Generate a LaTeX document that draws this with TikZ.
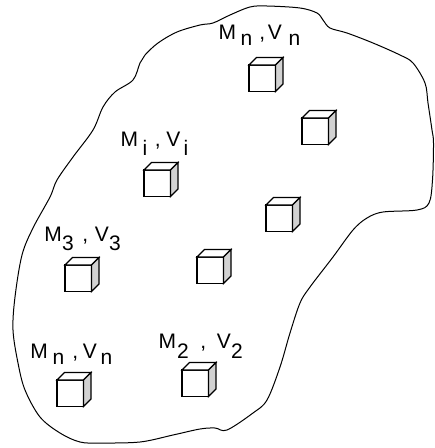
\documentclass[tikz,border=0pt]{standalone}
\usepackage{fontspec}
\setmainfont{Liberation Sans}
\usetikzlibrary{calc}
\newcommand{\lbl}[6]{\fontsize{21pt}{25pt}\selectfont M\hspace{#2}\raisebox{-#6}{#1}\hspace{#3},\hspace{#4}V\hspace{#5}\raisebox{-#6}{#1}}
\newcommand{\cubeat}[3]{%
  \coordinate (#1) at (#2,#3);
  \draw[cubeline, fill=white] (#1) rectangle ++(26.5,26.5);
  \draw[cubeline, fill=white] (#1) -- ++(7.5,-7.5) -- ++(26.5,0) -- ++(-7.5,7.5) -- cycle;
  \draw[cubeline, fill=cubeside] ($(#1)+(26.5,0)$) -- ++(7.5,-7.5) -- ++(0,26.5) -- ++(-7.5,7.5) -- cycle;
}
\definecolor{cubeside}{HTML}{D2D2D2}
\begin{document}
\begin{tikzpicture}[x=1pt,y=-1pt,
  cubeline/.style={draw=black, line width=1.2pt, line join=miter},
  blobline/.style={draw=black, line width=1pt},
  lab/.style={anchor=base west, inner sep=0pt}]
\useasboundingbox (0,0) rectangle (435,448);
\fill[white] (0,0) rectangle (435,448);
\draw[blobline] plot[smooth cycle, tension=0.55] coordinates {
(177,32) (200,25) (213,23) (230,15) (250,7) (267,6) (300,8) (317,13) (323,20) (330,28) (347,33) (373,43) (400,55) (413,63) (425,83) (428,103) (432,130) (433.5,143) (432.5,180) (429,203) (417,210) (383,212) (367,218) (353,230) (333,257) (310,287) (300,303) (290,333) (280,367) (267,400) (253,413) (227,430) (215,428) (200,429) (173,435) (140,442) (100,443) (80,442) (60,433) (40,417) (25,390) (18,363) (13,330) (15,297) (22,255) (33,228) (50,197) (57,180) (73,157) (93,130) (103,107) (115,92) (133,80) (140,63) (145,55) (158,43)};
\cubeat{c1}{249}{65}
\cubeat{c2}{302}{118}
\cubeat{c3}{144}{170}
\cubeat{c4}{266}{205}
\cubeat{c5}{197}{257}
\cubeat{c6}{65}{265}
\cubeat{c7}{182}{370}
\cubeat{c8}{57}{380}
\node[lab] (l1) at (218.3,39.5) {\lbl{n}{4.7pt}{6.9pt}{2.7pt}{6.8pt}{6pt}};
\node[lab] (l2) at (120.3,146) {\lbl{i}{4.7pt}{7.4pt}{5.7pt}{3.3pt}{9.5pt}};
\node[lab] (l3) at (44.3,241) {\lbl{3}{0.2pt}{8.4pt}{6.7pt}{0.3pt}{9pt}};
\node[lab] (l4) at (30.3,358.5) {\lbl{n}{4.7pt}{7.9pt}{4.7pt}{3.8pt}{5.5pt}};
\node[lab] (l5) at (158.3,348.5) {\lbl{2}{1.2pt}{11.4pt}{10.7pt}{0.3pt}{10pt}};
\end{tikzpicture}
\end{document}
